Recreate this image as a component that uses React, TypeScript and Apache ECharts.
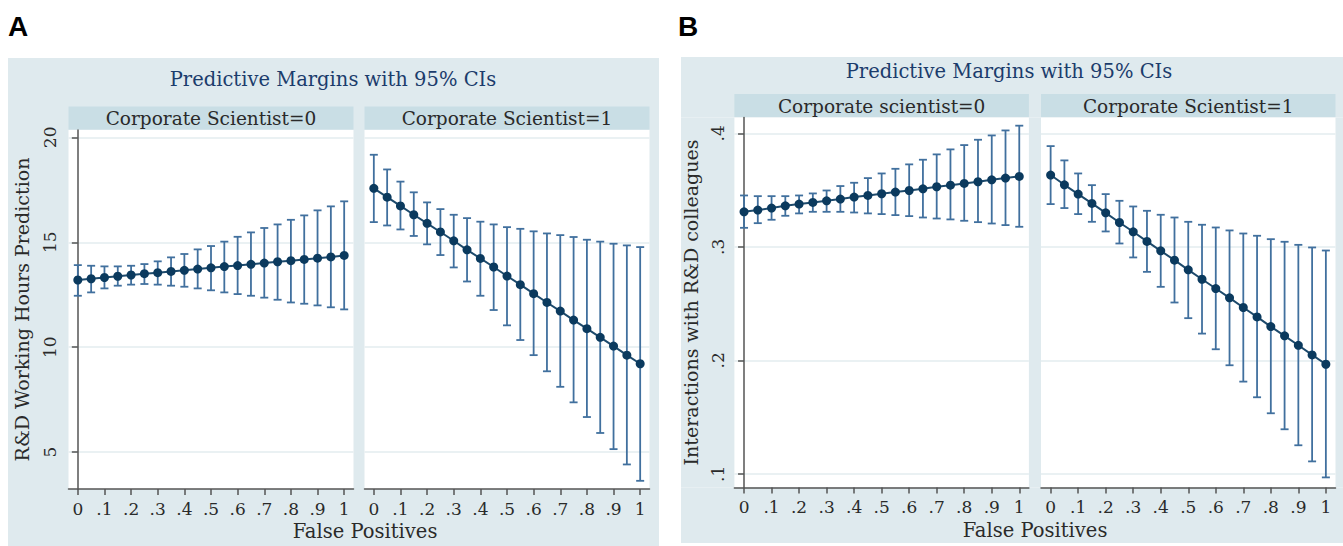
import React, { useEffect, useRef } from "react";
import * as echarts from "echarts";

// ---------- data ----------
const falsePositives = [0, 0.05, 0.1, 0.15, 0.2, 0.25, 0.3, 0.35, 0.4, 0.45, 0.5, 0.55, 0.6, 0.65, 0.7, 0.75, 0.8, 0.85, 0.9, 0.95, 1];

// Panel A: R&D working hours prediction
const aEst0 = [13.2, 13.26, 13.32, 13.38, 13.44, 13.5, 13.55, 13.61, 13.66, 13.72, 13.78, 13.84, 13.89, 13.95, 14.01, 14.07, 14.12, 14.18, 14.24, 14.3, 14.37];
const aHi0 = [13.91, 13.88, 13.85, 13.85, 13.88, 13.96, 14.09, 14.28, 14.44, 14.66, 14.82, 15.03, 15.26, 15.47, 15.68, 15.85, 16.07, 16.28, 16.52, 16.71, 16.95];
const aLo0 = [12.45, 12.61, 12.8, 12.93, 12.98, 13.01, 12.98, 12.93, 12.88, 12.8, 12.71, 12.61, 12.53, 12.45, 12.36, 12.26, 12.13, 12.07, 11.99, 11.9, 11.8];
const aEst1 = [17.57, 17.15, 16.73, 16.31, 15.9, 15.49, 15.07, 14.64, 14.23, 13.82, 13.39, 12.98, 12.55, 12.13, 11.72, 11.29, 10.88, 10.47, 10.05, 9.62, 9.21];
const aHi1 = [19.17, 18.47, 17.89, 17.38, 16.9, 16.58, 16.31, 16.15, 15.98, 15.85, 15.72, 15.64, 15.52, 15.42, 15.34, 15.25, 15.12, 15.03, 14.93, 14.85, 14.77];
const aLo1 = [15.96, 15.8, 15.61, 15.3, 14.9, 14.39, 13.8, 13.13, 12.45, 11.77, 11.04, 10.34, 9.62, 8.85, 8.11, 7.37, 6.67, 5.91, 5.14, 4.41, 3.63];

// Panel B: interactions with R&D colleagues
const bEst0 = [0.3309, 0.3324, 0.3342, 0.3362, 0.3377, 0.3392, 0.3406, 0.3421, 0.3439, 0.3453, 0.3468, 0.3483, 0.3497, 0.3512, 0.353, 0.3544, 0.3559, 0.3574, 0.3591, 0.3606, 0.3621];
const bHi0 = [0.3453, 0.3447, 0.3447, 0.3447, 0.3453, 0.3471, 0.3497, 0.3536, 0.3565, 0.3606, 0.3647, 0.3688, 0.3727, 0.3768, 0.3815, 0.3859, 0.3897, 0.3944, 0.3982, 0.4026, 0.4068];
const bLo0 = [0.3168, 0.3209, 0.3239, 0.3274, 0.3295, 0.3309, 0.3309, 0.3309, 0.3303, 0.3295, 0.3289, 0.328, 0.3271, 0.3259, 0.325, 0.3242, 0.323, 0.3218, 0.3206, 0.3192, 0.3177];
const bEst1 = [0.3633, 0.3547, 0.3465, 0.3383, 0.33, 0.3215, 0.3133, 0.3048, 0.2965, 0.2883, 0.2798, 0.2715, 0.2633, 0.2551, 0.2466, 0.2383, 0.2298, 0.2216, 0.2133, 0.2048, 0.1966];
const bHi1 = [0.3888, 0.3762, 0.3647, 0.3544, 0.3465, 0.3406, 0.3356, 0.3318, 0.3283, 0.3259, 0.3221, 0.3195, 0.3171, 0.3145, 0.3118, 0.3098, 0.3068, 0.3045, 0.3018, 0.2995, 0.2968];
const bLo1 = [0.3377, 0.3342, 0.3289, 0.3221, 0.3136, 0.303, 0.2907, 0.278, 0.2648, 0.251, 0.2372, 0.2236, 0.2098, 0.1957, 0.1813, 0.1675, 0.1534, 0.1393, 0.1252, 0.111, 0.0969];

const xTickValues = [0, 0.1, 0.2, 0.3, 0.4, 0.5, 0.6, 0.7, 0.8, 0.9, 1];
const xTickLabels = ["0", ".1", ".2", ".3", ".4", ".5", ".6", ".7", ".8", ".9", "1"];
const yTickValuesA = [5, 10, 15, 20];
const yTickLabelsA = ["5", "10", "15", "20"];
const yTickValuesB = [0.1, 0.2, 0.3, 0.4];
const yTickLabelsB = [".1", ".2", ".3", ".4"];

const mainTitle = "Predictive Margins with 95% CIs";
const stripsA = ["Corporate Scientist=0", "Corporate Scientist=1"];
const stripsB = ["Corporate scientist=0", "Corporate Scientist=1"];
const yTitleA = "R&D Working Hours Prediction";
const yTitleB = "Interactions with R&D colleagues";
const xTitle = "False Positives";

// ---------- styles ----------
const SERIF = "DejaVu Serif";
const PANEL_BG = "#dfeaee";
const STRIP_BG = "#c9dee5";
const NAVY = "#1b3c6c";
const TEXT = "#2a2a2a";
const AXIS = "#555555";
const GRIDLINE = "#e3ecef";
const POINT = "#0b3a5e";
const LINE = "#1d4a6c";
const BAR = "#41709e";

function labelFor(values: number[], labels: string[]) {
  return (v: number) => {
    const i = values.findIndex((t) => Math.abs(t - v) < 1e-6);
    return i >= 0 ? labels[i] : "";
  };
}

export default function App() {
  const ref = useRef<HTMLDivElement>(null);
  useEffect(() => {
    document.body.style.margin = "0";
    if (!ref.current) return;
    const chart = echarts.init(ref.current, null, { renderer: "svg" });

    const grids = [
      { left: 68.5, top: 130, width: 285, height: 359 },
      { left: 364.5, top: 130, width: 285, height: 359 },
      { left: 734.4, top: 117.5, width: 294.5, height: 370 },
      { left: 1041, top: 117.5, width: 294.5, height: 370 },
    ];

    const xAxes = grids.map((_, i) => ({
      type: "value",
      gridIndex: i,
      min: -0.035,
      max: 1.035,
      axisLine: { show: true, onZero: false, lineStyle: { color: AXIS, width: 1.5 } },
      axisTick: { show: true, length: 6, customValues: xTickValues, lineStyle: { color: AXIS, width: 1.5 } },
      axisLabel: {
        show: true,
        customValues: xTickValues,
        formatter: labelFor(xTickValues, xTickLabels),
        margin: 11,
        fontFamily: SERIF,
        fontSize: 17,
        color: TEXT,
      },
      splitLine: { show: false },
      splitArea: { show: false },
    }));

    const yAxisBase = (i: number, min: number, max: number, vals: number[], labs: string[], showLeft: boolean, name: string, gap: number, labelMargin: number) => ({
      type: "value",
      gridIndex: i,
      min,
      max,
      name: showLeft ? name : "",
      nameLocation: "middle",
      nameRotate: 90,
      nameGap: gap,
      nameTextStyle: { fontFamily: SERIF, fontSize: 19, color: TEXT },
      axisLine: { show: showLeft, lineStyle: { color: AXIS, width: 1.5 } },
      axisTick: { show: showLeft, length: 6, customValues: vals, lineStyle: { color: AXIS, width: 1.5 } },
      axisLabel: {
        show: showLeft,
        customValues: vals,
        formatter: labelFor(vals, labs),
        rotate: 90,
        margin: labelMargin,
        fontFamily: SERIF,
        fontSize: 17,
        color: TEXT,
      },
      splitLine: { show: true, lineStyle: { color: GRIDLINE, width: 1.5 } },
      splitArea: { show: false },
    });

    const yAxes = [
      yAxisBase(0, 3.24, 20.35, yTickValuesA, yTickLabelsA, true, yTitleA, 37, 10),
      yAxisBase(1, 3.24, 20.35, yTickValuesA, yTickLabelsA, false, yTitleA, 37, 10),
      yAxisBase(2, 0.088, 0.414, yTickValuesB, yTickLabelsB, true, yTitleB, 34, 8),
      yAxisBase(3, 0.088, 0.414, yTickValuesB, yTickLabelsB, false, yTitleB, 34, 8),
    ];

    const panels = [
      { est: aEst0, lo: aLo0, hi: aHi0 },
      { est: aEst1, lo: aLo1, hi: aHi1 },
      { est: bEst0, lo: bLo0, hi: bHi0 },
      { est: bEst1, lo: bLo1, hi: bHi1 },
    ];

    const series: any[] = [];
    panels.forEach((p, i) => {
      series.push({
        type: "custom",
        xAxisIndex: i,
        yAxisIndex: i,
        data: falsePositives.map((x, k) => [x, p.lo[k], p.hi[k]]),
        encode: { x: 0, y: [1, 2] },
        z: 2,
        renderItem: (params: any, api: any) => {
          const x = api.value(0);
          const a = api.coord([x, api.value(1)]);
          const b = api.coord([x, api.value(2)]);
          const w = 4;
          const style = { stroke: BAR, lineWidth: 1.8, fill: null };
          return {
            type: "group",
            children: [
              { type: "line", shape: { x1: a[0], y1: a[1], x2: b[0], y2: b[1] }, style },
              { type: "line", shape: { x1: a[0] - w, y1: a[1], x2: a[0] + w, y2: a[1] }, style },
              { type: "line", shape: { x1: b[0] - w, y1: b[1], x2: b[0] + w, y2: b[1] }, style },
            ],
          };
        },
      });
      series.push({
        type: "line",
        xAxisIndex: i,
        yAxisIndex: i,
        data: falsePositives.map((x, k) => [x, p.est[k]]),
        symbol: "circle",
        symbolSize: 9,
        showSymbol: true,
        z: 3,
        lineStyle: { color: LINE, width: 2 },
        itemStyle: { color: POINT },
      });
    });

    const txt = (x: number, y: number, text: string, size: number, fill: string) => ({
      type: "text",
      x,
      y,
      style: { text, fill, fontFamily: SERIF, fontSize: size, align: "center", verticalAlign: "middle" },
    });

    const strip = (g: any, top: number, h: number, text: string) => [
      { type: "rect", shape: { x: g.left, y: top, width: g.width, height: h }, style: { fill: STRIP_BG } },
      txt(g.left + g.width / 2, top + h / 2 + 0.5, text, 18.5, TEXT),
    ];

    // light-blue panel backgrounds drawn as frames around the white plotting regions
    const frame = (x0: number, y0: number, x1: number, y1: number, gl: any, gr: any) => {
      const top = gl.top;
      const bottom = gl.top + gl.height;
      const pieces = [
        [x0, y0, x1 - x0, top - y0],
        [x0, bottom, x1 - x0, y1 - bottom],
        [x0, top, gl.left - x0, bottom - top],
        [gl.left + gl.width, top, gr.left - (gl.left + gl.width), bottom - top],
        [gr.left + gr.width, top, x1 - (gr.left + gr.width), bottom - top],
      ];
      return pieces.map(([x, y, w, h]) => ({ type: "rect", shape: { x, y, width: w, height: h }, style: { fill: PANEL_BG } }));
    };

    const graphic: any[] = [
      ...frame(8, 58, 659, 546, grids[0], grids[1]),
      ...frame(681, 57, 1343, 543, grids[2], grids[3]),
      { type: "text", x: 8, y: 12, style: { text: "A", fontFamily: "Liberation Sans", fontWeight: "bold", fontSize: 28, fill: "#000" } },
      { type: "text", x: 678, y: 12, style: { text: "B", fontFamily: "Liberation Sans", fontWeight: "bold", fontSize: 28, fill: "#000" } },
      txt(333, 79, mainTitle, 19.5, NAVY),
      txt(1009, 71, mainTitle, 19.5, NAVY),
      ...strip(grids[0], 106.5, 23, stripsA[0]),
      ...strip(grids[1], 106.5, 23, stripsA[1]),
      ...strip(grids[2], 94, 23, stripsB[0]),
      ...strip(grids[3], 94, 23, stripsB[1]),
      txt(365, 531, xTitle, 19.5, TEXT),
      txt(1035, 530, xTitle, 19.5, TEXT),
    ];

    chart.setOption({
      animation: false,
      backgroundColor: "#ffffff",
      grid: grids.map((g) => ({ ...g, show: false, containLabel: false })),
      xAxis: xAxes,
      yAxis: yAxes,
      series,
      graphic,
    } as any);

    return () => chart.dispose();
  }, []);

  return <div ref={ref} style={{ width: 1343, height: 546 }} />;
}
